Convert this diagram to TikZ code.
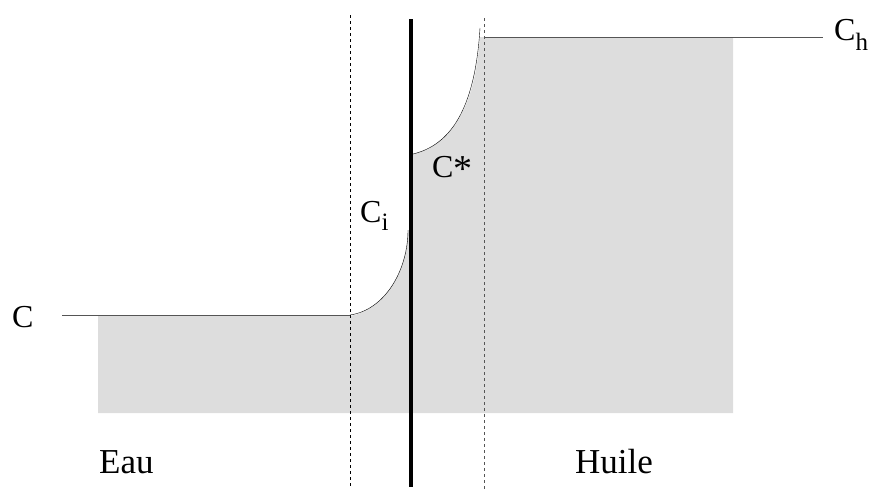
\documentclass[tikz,border=0pt]{standalone}
\usepackage{fontspec}
\setmainfont{Liberation Serif}
\usepackage{tikz}
\definecolor{phasefill}{RGB}{221, 221, 221}
\definecolor{dimline}{RGB}{85, 85, 85}
\newcommand{\subtxt}[2]{\raisebox{-#1pt}{\fontsize{25}{30}\selectfont #2}}

\begin{document}
\begin{tikzpicture}[x=1pt, y=-1pt,
    label/.style={font=\fontsize{32}{38}\selectfont, anchor=base west, inner sep=0pt},
    phase/.style={font=\fontsize{35}{42}\selectfont, anchor=base west, inner sep=0pt}]
        \useasboundingbox (0,0) rectangle (873,491);
        % Key points of the profile
        \coordinate (cw) at (62,315);
        \coordinate (cwend) at (350,315);
        \coordinate (ci) at (408,230);
        \coordinate (cs) at (413,154);
        \coordinate (cstop) at (480,28);
        \coordinate (ch) at (484,37);
        \coordinate (chend) at (823,37);
        % Shaded concentration area
        \fill[phasefill]
          (98,413) -- (98,316) -- (350,316)
          .. controls (385,310) and (408,270) ..
          (ci) -- (413,230) -- (cs)
          .. controls (450,145) and (475,110) ..
          (480,37) -- (733,37) -- (733,413) -- cycle;
        % Film boundaries and interface
        \draw[dashed, thin] (350,15) -- (350,488);
        \draw[dashed, thin, dimline] (484,18) -- (484,491);
        \draw[line width=4pt] (411,19) -- (411,487);
        % Concentration profile
        \draw[dimline] (cw) -- (cwend);
        \draw (cwend) .. controls (385,310) and (408,270) .. (ci);
        \draw (cs) .. controls (450,145) and (475,110) .. (cstop);
        \draw[dimline] (ch) -- (chend);
        % Labels
        \node[label] (lc) at (12,327) {C};
        \node[label] (lci) at (360,222) {C\subtxt{8}{i}};
        \node[label] (lcs) at (432,177) {C\raisebox{-4pt}{\fontsize{38}{44}\selectfont *}};
        \node[label] (lch) at (834,40) {C\subtxt{10}{h}};
        \node[phase] (eau) at (99,473) {Eau};
        \node[phase] (huile) at (575,473) {Huile};
      \end{tikzpicture}
\end{document}
